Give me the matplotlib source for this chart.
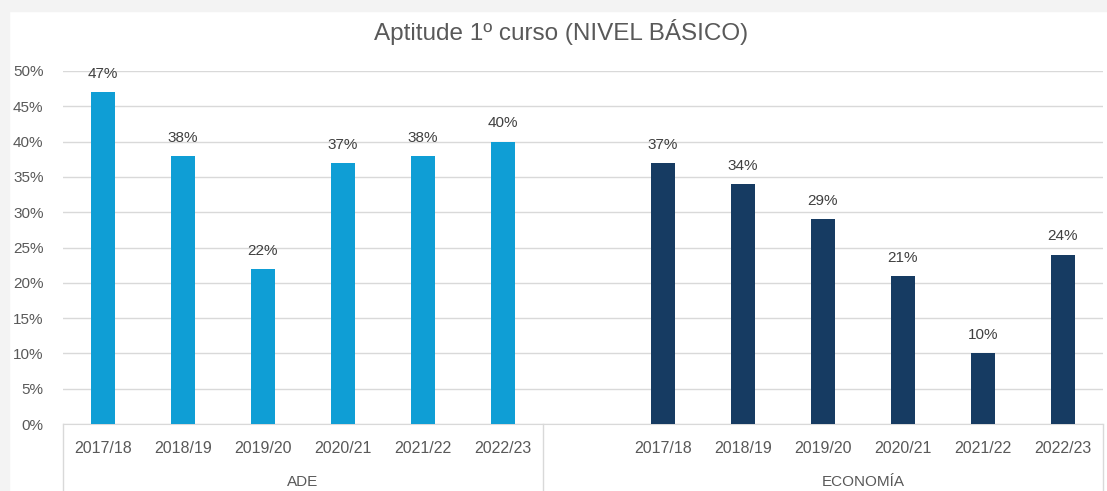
import matplotlib.pyplot as plt
import matplotlib.transforms as mtransforms
from matplotlib.patches import Rectangle

## data
years = ["2017/18", "2018/19", "2019/20", "2020/21", "2021/22", "2022/23"]
ade = [0.47, 0.38, 0.22, 0.37, 0.38, 0.40]
economia = [0.37, 0.34, 0.29, 0.21, 0.10, 0.24]
groups = ["ADE", "ECONOMÍA"]
yticks = [0, 0.05, 0.10, 0.15, 0.20, 0.25, 0.30, 0.35, 0.40, 0.45, 0.50]

plt.rcParams['font.family'] = ['Liberation Sans', 'DejaVu Sans']

W, H = 1107, 491
fig = plt.figure(figsize=(W / 100, H / 100), dpi=100)
fig.patch.set_facecolor("white")

## grey frame from the screenshot (top and left edges)
fig.patches.append(Rectangle((0, 1 - 11 / H), 1, 11 / H, transform=fig.transFigure,
                             color="#F3F3F3", zorder=0))
fig.patches.append(Rectangle((0, 0), 9 / W, 1, transform=fig.transFigure,
                             color="#F3F3F3", zorder=0))

left, right = 63, 1103
top, bottom = 71, 424
ax = fig.add_axes([left / W, 1 - bottom / H, (right - left) / W, (bottom - top) / H])

## positions: ADE 0-5, empty slot 6, ECONOMIA 7-12
x_ade = list(range(6))
x_eco = [i + 7 for i in range(6)]
bw = 0.31

ax.bar(x_ade, ade, width=bw, color="#0F9ED5", zorder=3)
ax.bar(x_eco, economia, width=bw, color="#163B62", zorder=3)

for xs, vals in [(x_ade, ade), (x_eco, economia)]:
    for x, v in zip(xs, vals):
        ax.annotate(f"{round(v * 100)}%", (x, v), xytext=(0, 8), textcoords="offset points",
                    ha="center", va="bottom", fontsize=11, color="#404040")

ax.set_xlim(-0.5, 12.5)
ax.set_ylim(0, 0.5)
ax.set_yticks(yticks)
ax.set_yticklabels([f"{round(t * 100)}%" for t in yticks])
ax.tick_params(axis="y", length=0, pad=14, labelsize=11, labelcolor="#595959")
ax.grid(axis="y", color="#D9D9D9", linewidth=1, zorder=0)
ax.set_axisbelow(True)

ax.set_xticks(x_ade + x_eco)
ax.set_xticklabels(years + years)
ax.tick_params(axis="x", length=0, pad=12, labelsize=11.5, labelcolor="#595959")

for s in ["left", "right", "top"]:
    ax.spines[s].set_visible(False)
ax.spines["bottom"].set_color("#D9D9D9")

## group separators and group labels below the axis
trans = mtransforms.blended_transform_factory(ax.transData, ax.transAxes)
ylow = -(H - bottom + 5) / (bottom - top)
for xv in [-0.5, 5.5, 12.5]:
    ax.plot([xv, xv], [0, ylow], transform=trans, color="#D9D9D9", lw=1, clip_on=False)

ygrp = -(482 - bottom) / (bottom - top)
ax.text(2.5, ygrp, groups[0], transform=trans, ha="center", va="center",
        fontsize=11, color="#595959")
ax.text(9.5, ygrp, groups[1], transform=trans, ha="center", va="center",
        fontsize=11, color="#595959")

fig.text(561 / W, 1 - 32 / H, "Aptitude 1º curso (NIVEL BÁSICO)", ha="center", va="center",
         fontsize=17.5, color="#595959")

fig.savefig("out.png", dpi=100)
